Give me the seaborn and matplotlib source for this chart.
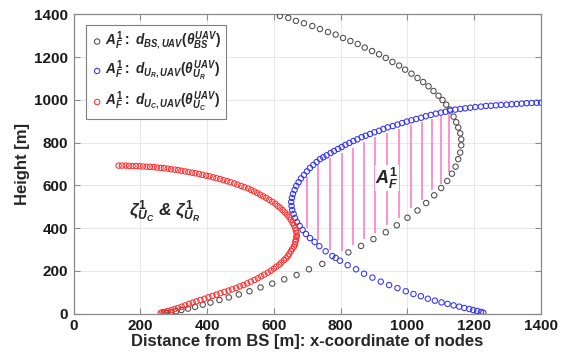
import matplotlib
matplotlib.use("Agg")
import matplotlib.pyplot as plt
import seaborn as sns
import pandas as pd

# ---- data ----
bs_x = [618, 643, 666, 690, 715, 738, 762, 785, 807, 829, 851, 872, 894, 915, 935, 955, 975, 993,
        1012, 1030, 1047, 1063, 1078, 1093, 1105, 1116, 1127, 1138, 1146, 1152, 1158, 1161, 1161,
        1158, 1152, 1144, 1133, 1119, 1101, 1080, 1056, 1030, 1000, 968, 935, 898, 861, 823, 785,
        745, 705, 668, 631, 595, 560, 527, 495, 465, 437, 410, 387, 364, 343, 323, 307, 292, 280, 270]
bs_y = [1392, 1383, 1369, 1358, 1345, 1331, 1317, 1305, 1289, 1275, 1261, 1244, 1228, 1213, 1196,
        1177, 1160, 1141, 1122, 1102, 1083, 1063, 1041, 1019, 999, 977, 954, 921, 895, 870, 843,
        815, 787, 753, 722, 687, 654, 620, 587, 553, 517, 482, 448, 413, 380, 348, 316, 286, 260,
        232, 207, 180, 160, 140, 122, 104, 89, 75, 63, 51, 41, 31, 23, 16, 10, 6, 2, 0]

ur_x = [1400, 1387, 1372, 1357, 1342, 1327, 1312, 1297, 1280, 1265, 1250, 1235, 1220, 1203, 1188,
        1173, 1158, 1143, 1128, 1114, 1100, 1085, 1070, 1055, 1041, 1026, 1012, 998, 984, 970,
        956, 941, 928, 915, 901, 888, 875, 863, 850, 838, 826, 814, 803, 792, 780, 770, 758, 748,
        738, 728, 718, 708, 699, 690, 681, 674, 667, 662, 657, 654, 652, 653, 655, 659, 663, 669,
        677, 686, 696, 708, 722, 736, 755, 775, 798, 821, 846, 870, 895, 920, 945, 970, 995, 1018,
        1040, 1061, 1082, 1102, 1120, 1138, 1155, 1170, 1185, 1197, 1209, 1220, 1227]
ur_y = [986, 986, 985, 984, 982, 980, 979, 977, 976, 974, 972, 971, 968, 966, 963, 960, 957, 954,
        949, 944, 940, 935, 929, 923, 916, 910, 904, 898, 891, 884, 877, 871, 863, 855, 848, 840,
        832, 825, 815, 807, 798, 789, 779, 770, 760, 751, 740, 731, 722, 709, 695, 681, 665, 648,
        632, 614, 597, 578, 559, 541, 522, 503, 484, 466, 447, 428, 410, 391, 372, 353, 335, 315,
        291, 269, 247, 226, 207, 186, 168, 149, 133, 119, 104, 91, 81, 69, 60, 52, 45, 38, 32, 26,
        21, 16, 12, 7, 4]

uc_x = [135, 145, 156, 166, 177, 187, 198, 208, 219, 229, 240, 250, 261, 271, 282, 292, 303, 313,
        323, 334, 344, 355, 365, 376, 386, 397, 407, 418, 428, 439, 449, 460, 470, 481, 491, 502,
        512, 523, 532, 541, 550, 559, 568, 577, 586, 595, 604, 611, 618, 626, 633, 640, 646, 651,
        656, 660, 664, 666, 668, 669, 667, 666, 664, 663, 660, 655, 651, 646, 642, 636, 630, 622,
        616, 607, 600, 591, 582, 571, 562, 552, 542, 531, 520, 509, 498, 487, 475, 464, 452, 440,
        428, 416, 404, 392, 380, 368, 357, 346, 335, 324, 313, 303, 293, 283, 274, 266, 261]
uc_y = [692, 692, 692, 691, 690, 690, 689, 688, 687, 686, 685, 683, 681, 680, 678, 675, 673, 671,
        668, 665, 662, 659, 656, 653, 649, 645, 642, 637, 633, 629, 624, 619, 614, 609, 603, 597,
        591, 585, 578, 571, 564, 556, 548, 541, 532, 523, 514, 504, 495, 484, 473, 462, 450, 438,
        425, 413, 400, 388, 375, 363, 357, 345, 335, 324, 313, 302, 291, 280, 269, 258, 249, 238,
        228, 219, 210, 200, 191, 182, 174, 165, 157, 149, 141, 133, 127, 119, 113, 107, 101, 95,
        88, 82, 76, 69, 63, 57, 51, 45, 38, 32, 26, 21, 16, 12, 8, 6, 2]

area_x = [699, 733, 768, 803, 836, 870, 903, 938, 975, 1010, 1043, 1072, 1099, 1125]
area_top = [640, 695, 726, 750, 773, 804, 825, 843, 862, 882, 898, 910, 924, 932]
area_bottom = [399, 346, 299, 294, 322, 350, 375, 414, 446, 492, 529, 576, 604, 660]

x_ticks = [0, 200, 400, 600, 800, 1000, 1200, 1400]
y_ticks = [0, 200, 400, 600, 800, 1000, 1200, 1400]

labels = [r"$A^{1}_{F}{:}\ d_{BS,UAV}(\theta^{UAV}_{BS})$",
          r"$A^{1}_{F}{:}\ d_{U_R,UAV}(\theta^{UAV}_{U_R})$",
          r"$A^{1}_{F}{:}\ d_{U_C,UAV}(\theta^{UAV}_{U_C})$"]
colors = ["#4a4a4a", "#3030ff", "#ff3030"]

# ---- style ----
sns.set_theme(style="white")
plt.rcParams["font.family"] = ["Liberation Sans", "DejaVu Sans"]
plt.rcParams["mathtext.fontset"] = "custom"
plt.rcParams["mathtext.rm"] = "Liberation Sans:bold"
plt.rcParams["mathtext.it"] = "Liberation Sans:bold:italic"
plt.rcParams["mathtext.bf"] = "Liberation Sans:bold"
plt.rcParams["mathtext.fallback"] = "stixsans"

fig = plt.figure(figsize=(5.66, 3.58), dpi=100)
ax = fig.add_axes([0.1299, 0.1243, 0.826, 0.8358])

ax.vlines(area_x, area_bottom, area_top, colors="#ff88c8", linewidth=1.3, zorder=1)

for xs, ys, col, lab in zip([bs_x, ur_x, uc_x], [bs_y, ur_y, uc_y], colors, labels):
    df = pd.DataFrame({"x": xs, "y": ys})
    sns.scatterplot(data=df, x="x", y="y", ax=ax, marker="o", s=15,
                    facecolors="none", edgecolor=col, linewidth=0.75,
                    label=lab, zorder=3, clip_on=True)

ax.set_xlim(0, 1400)
ax.set_ylim(0, 1400)
ax.set_xticks(x_ticks)
ax.set_yticks(y_ticks)
ax.set_xticklabels([str(v) for v in x_ticks], fontweight="bold", fontsize=11)
ax.set_yticklabels([str(v) for v in y_ticks], fontweight="bold", fontsize=11)
ax.grid(True, color="#e8e8e8", linewidth=0.7)
ax.set_axisbelow(True)
for sp in ax.spines.values():
    sp.set_color("#8a8a8a")
    sp.set_linewidth(0.9)
ax.tick_params(direction="in", length=4, width=0.8, color="#8a8a8a",
               top=True, right=True, bottom=True, left=True, pad=4, labelcolor="#1a1a1a")
ax.set_xlabel("Distance from BS [m]: x-coordinate of nodes", fontsize=12,
              fontweight="bold", color="#262626", labelpad=1)
ax.set_ylabel("Height [m]", fontsize=12, fontweight="bold", color="#262626", labelpad=3)

ax.text(939, 634, r"$A^{1}_{F}$", fontsize=13, ha="center", va="center", zorder=4,
        bbox=dict(facecolor="white", edgecolor="none", pad=0.3))
ax.text(274, 475, r"$\zeta^{1}_{U_C}$ & $\zeta^{1}_{U_R}$", fontsize=12.5,
        fontweight="bold", style="italic", ha="center", va="center", zorder=4)

leg = ax.legend(loc="upper left", bbox_to_anchor=(0.017, 0.977), fontsize=9.8,
                frameon=True, fancybox=False, edgecolor="#7f7f7f", framealpha=1,
                handletextpad=0.05, labelspacing=0.5, borderpad=0.35, handlelength=1.0,
                borderaxespad=0.3)
leg.get_frame().set_linewidth(0.8)

fig.savefig("out.png", dpi=100)
